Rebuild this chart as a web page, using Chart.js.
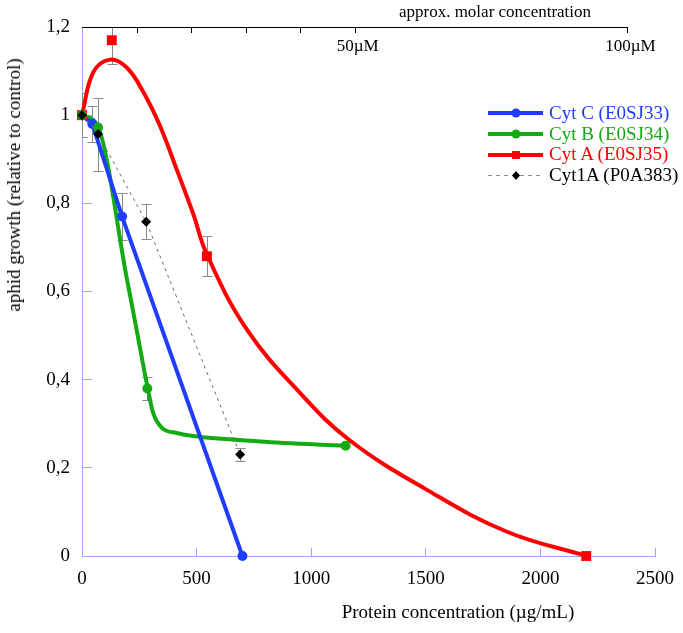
<!DOCTYPE html>
<html>
<head>
<meta charset="utf-8">
<script src="https://cdn.jsdelivr.net/npm/chart.js@4.4.1/dist/chart.umd.min.js"></script>
<style>
  body { margin: 0; background: #fff; }
  #wrap { position: relative; width: 683px; height: 633px; font-family: "Liberation Serif", "Times New Roman", serif; }
  .lbl { position: absolute; white-space: nowrap; color: #000; transform: translate(-50%, -50%); }
  #legend { position: absolute; left: 488px; top: 103px; font-size: 19px; line-height: 20.7px; }
  #legend .row { display: flex; align-items: center; height: 20.7px; }
  #legend svg { margin-right: 5px; }
</style>
</head>
<body>
<div id="wrap">
  <canvas id="chart" width="683" height="633"></canvas>
  <div class="lbl" style="left:495px; top:12px; font-size:17px;">approx. molar concentration</div>
  <div class="lbl" style="left:458px; top:612px; font-size:19px;">Protein concentration (µg/mL)</div>
  <div class="lbl" style="left:14px; top:185px; font-size:19px; transform: translate(-50%, -50%) rotate(-90deg);">aphid growth (relative to control)</div>
  <div id="legend"></div>
</div>
<script>
// µg/mL per µM (100µM sits at ~2380 µg/mL)
const MW = 23.8;
const molarTicks = [10, 20, 30, 40, 50, 100];
const molarLabelValues = [50, 100];
const molarLabels = ['50µM', '100µM'];

// Cyt C (E0SJ33)
const cytCx = [0, 45, 175, 700];
const cytCy = [1, 0.98, 0.77, 0];
const cytCerr = [0, 0.04, 0.053, 0];

// Cyt B (E0SJ34) measured points + fitted curve
const cytBx = [0, 70, 285, 1150];
const cytBy = [1, 0.972, 0.38, 0.25];
const cytBerr = [0, 0, 0.026, 0];
const cytBfitX = [0, 71, 195, 238, 285, 310, 350, 413, 485, 776, 1150];
const cytBfitY = [1, 0.972, 0.631, 0.514, 0.385, 0.325, 0.29, 0.279, 0.272, 0.26, 0.25];

// Cyt A (E0SJ35) measured points + fitted curve
const cytAx = [0, 130, 545, 2200];
const cytAy = [1, 1.17, 0.68, 0];
const cytAerr = [0.05, 0.055, 0.045, 0];
const cytAfitX = [0, 49, 122, 195, 268, 340, 413, 486, 544, 719, 951, 1169, 1505, 1854, 2200];
const cytAfitY = [1, 1.097, 1.126, 1.108, 1.052, 0.976, 0.877, 0.775, 0.685, 0.514, 0.37, 0.262, 0.15, 0.055, 0];

// Cyt1A (P0A383)
const cyt1Ax = [0, 70, 280, 690];
const cyt1Ay = [1, 0.957, 0.758, 0.23];
const cyt1Aerr = [0, 0.083, 0.04, 0.015];

const BLUE = '#1f3cff';
const GREEN = '#14aa14';
const RED = '#ff0000';
const AXIS = '#9fa3ff';
const FONT = '"Liberation Serif", "Times New Roman", serif';

function pts(xs, ys) {
  return xs.map((x, i) => ({ x: x, y: ys[i] }));
}

const errorBars = {
  id: 'errorBars',
  beforeDatasetsDraw(chart) {
    const ctx = chart.ctx, area = chart.chartArea, yScale = chart.scales.y;
    ctx.save();
    ctx.beginPath();
    ctx.rect(area.left, area.top, area.right - area.left, area.bottom - area.top);
    ctx.clip();
    ctx.strokeStyle = '#8a8a8a';
    ctx.lineWidth = 1;
    chart.data.datasets.forEach((ds, i) => {
      if (!ds.errors) return;
      const meta = chart.getDatasetMeta(i);
      meta.data.forEach((pt, j) => {
        const e = ds.errors[j];
        if (!e) return;
        const v = ds.data[j].y;
        const y1 = Math.round(yScale.getPixelForValue(v + e)) + 0.5;
        const y2 = Math.round(yScale.getPixelForValue(v - e)) + 0.5;
        const x = Math.round(pt.x) + 0.5;
        ctx.beginPath();
        ctx.moveTo(x, y1); ctx.lineTo(x, y2);
        ctx.moveTo(x - 5, y1); ctx.lineTo(x + 5, y1);
        ctx.moveTo(x - 5, y2); ctx.lineTo(x + 5, y2);
        ctx.stroke();
      });
    });
    ctx.restore();
  }
};

const topAxis = {
  id: 'topAxis',
  afterDraw(chart) {
    const ctx = chart.ctx, xScale = chart.scales.x, top = chart.chartArea.top;
    const px = v => xScale.getPixelForValue(v * MW);
    ctx.save();
    ctx.strokeStyle = '#000';
    ctx.lineWidth = 1;
    ctx.beginPath();
    ctx.moveTo(px(0), top + 0.5);
    ctx.lineTo(Math.round(px(100)) + 1, top + 0.5);
    molarTicks.forEach(t => {
      const xx = Math.round(px(t)) + 0.5;
      ctx.moveTo(xx, top);
      ctx.lineTo(xx, top + 6);
    });
    ctx.stroke();
    ctx.fillStyle = '#000';
    ctx.font = '17px ' + FONT;
    ctx.textAlign = 'center';
    ctx.textBaseline = 'middle';
    molarLabels.forEach((l, i) => ctx.fillText(l, px(molarLabelValues[i]) + 3, top + 20));
    ctx.restore();
  }
};

new Chart(document.getElementById('chart'), {
  type: 'line',
  data: {
    datasets: [
      {
        label: 'Cyt A fit', data: pts(cytAfitX, cytAfitY), borderColor: RED, borderWidth: 4,
        pointRadius: 0, tension: 0.4, clip: false, order: 7
      },
      {
        label: 'Cyt B fit', data: pts(cytBfitX, cytBfitY), borderColor: GREEN, borderWidth: 4,
        pointRadius: 0, cubicInterpolationMode: 'monotone', clip: false, order: 6
      },
      {
        label: 'Cyt C (E0SJ33)', data: pts(cytCx, cytCy), errors: cytCerr, borderColor: BLUE, borderWidth: 4,
        tension: 0, pointRadius: 5, pointBackgroundColor: BLUE, pointBorderWidth: 0, clip: false, order: 5
      },
      {
        label: 'Cyt A (E0SJ35)', data: pts(cytAx, cytAy), errors: cytAerr, showLine: false,
        pointStyle: 'rect', pointRadius: 7, pointBackgroundColor: RED, pointBorderWidth: 0, clip: false, order: 4
      },
      {
        label: 'Cyt B (E0SJ34)', data: pts(cytBx, cytBy), errors: cytBerr, showLine: false,
        pointRadius: 5, pointBackgroundColor: GREEN, pointBorderWidth: 0, clip: false, order: 3
      },
      {
        label: 'Cyt1A (P0A383)', data: pts(cyt1Ax, cyt1Ay), errors: cyt1Aerr, borderColor: '#666',
        borderWidth: 1, borderDash: [3, 4], tension: 0, pointStyle: 'rectRot', pointRadius: 5,
        pointBackgroundColor: '#000', pointBorderWidth: 0, clip: false, order: 0
      }
    ]
  },
  options: {
    responsive: false,
    animation: false,
    layout: { padding: { top: 27, right: 28, left: 0, bottom: 0 } },
    plugins: { legend: { display: false }, tooltip: { enabled: false } },
    scales: {
      x: {
        type: 'linear', min: 0, max: 2500,
        border: { color: AXIS, width: 1 },
        grid: { drawOnChartArea: false, color: AXIS, tickLength: -8 },
        ticks: {
          stepSize: 500, color: '#000', padding: 20, maxRotation: 0, font: { family: FONT, size: 19 },
          callback: v => String(v)
        },
        afterFit(scale) {
          scale.height = 77;
          scale.paddingLeft = 0;
          scale.paddingRight = 0;
        }
      },
      y: {
        type: 'linear', min: 0, max: 1.2,
        border: { color: AXIS, width: 1 },
        grid: { drawOnChartArea: false, color: AXIS, tickLength: -10 },
        ticks: {
          stepSize: 0.2, color: '#000', padding: 22, font: { family: FONT, size: 19 },
          callback: v => String(Number(v.toFixed(1))).replace('.', ',')
        },
        afterFit(scale) {
          scale.width = 82;
          scale.paddingTop = 0;
          scale.paddingBottom = 0;
        }
      }
    }
  },
  plugins: [errorBars, topAxis]
});

// legend: line + marker, coloured text
const legendItems = [
  { text: 'Cyt C (E0SJ33)', color: BLUE, icon: '<line x1="0" y1="10" x2="55" y2="10" stroke="' + BLUE + '" stroke-width="4"/><circle cx="28" cy="10" r="4.5" fill="' + BLUE + '"/>' },
  { text: 'Cyt B (E0SJ34)', color: GREEN, icon: '<line x1="0" y1="10" x2="55" y2="10" stroke="' + GREEN + '" stroke-width="4"/><circle cx="28" cy="10" r="4.5" fill="' + GREEN + '"/>' },
  { text: 'Cyt A (E0SJ35)', color: RED, icon: '<line x1="0" y1="10" x2="55" y2="10" stroke="' + RED + '" stroke-width="4"/><rect x="24" y="6" width="8" height="8" fill="' + RED + '"/>' },
  { text: 'Cyt1A (P0A383)', color: '#000', icon: '<line x1="0" y1="10.5" x2="55" y2="10.5" stroke="#888" stroke-width="1" stroke-dasharray="4 4"/><polygon points="28,6 32,10.5 28,15 24,10.5" fill="#000"/>' }
];
document.getElementById('legend').innerHTML = legendItems.map(it =>
  '<div class="row"><svg width="56" height="20">' + it.icon + '</svg><span style="color:' + it.color + '">' + it.text + '</span></div>'
).join('');
</script>
</body>
</html>
